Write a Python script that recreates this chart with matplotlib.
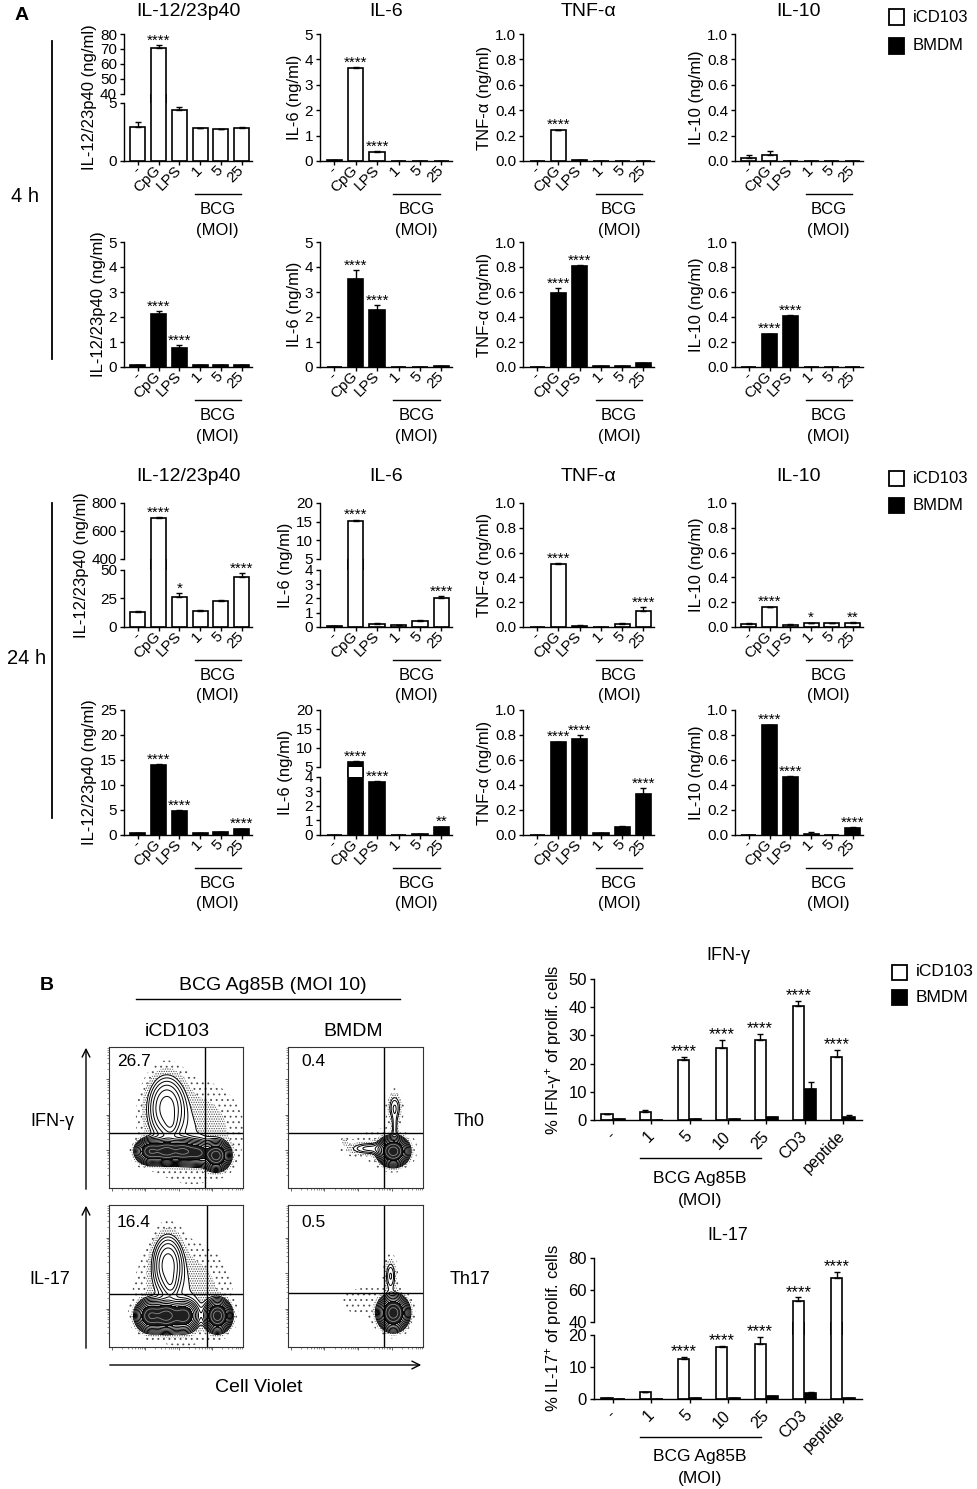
import numpy as np
import matplotlib
matplotlib.use('Agg')
import matplotlib.pyplot as plt
from matplotlib.patches import Rectangle, FancyArrowPatch
from matplotlib.lines import Line2D
from matplotlib.transforms import ScaledTranslation

plt.rcParams['font.family'] = ['Liberation Sans', 'DejaVu Sans']
plt.rcParams['mathtext.fontset'] = 'custom'
plt.rcParams['mathtext.rm'] = 'Liberation Sans'
plt.rcParams['mathtext.it'] = 'Liberation Sans:italic'
plt.rcParams['hatch.linewidth'] = 0.6
plt.rcParams['hatch.color'] = '0.3'

# ======================= DATA =======================
series_names = ['iCD103', 'BMDM']
series_faces = ['white', 'black']

cats_A = ['-', 'CpG', 'LPS', '1', '5', '25']
cytokines_A = ['IL-12/23p40', 'IL-6', 'TNF-α', 'IL-10']
ylabels_A = ['IL-12/23p40 (ng/ml)', 'IL-6 (ng/ml)', 'TNF-α (ng/ml)', 'IL-10 (ng/ml)']
time_labels = ['4 h', '24 h']

# 4 h, iCD103
il12_4h_icd = [2.9, 70.7, 4.4, 2.8, 2.75, 2.8]
il12_4h_icd_err = [0.45, 1.8, 0.25, 0.06, 0.03, 0.12]
il12_4h_icd_sig = ['', '****', '', '', '', '']
il6_4h_icd = [0.02, 3.65, 0.37, 0.01, 0.01, 0.01]
il6_4h_icd_err = [0.0, 0.04, 0.01, 0.0, 0.0, 0.0]
il6_4h_icd_sig = ['', '****', '****', '', '', '']
tnf_4h_icd = [0.0, 0.245, 0.005, 0.0, 0.0, 0.0]
tnf_4h_icd_err = [0.0, 0.003, 0.0, 0.0, 0.0, 0.0]
tnf_4h_icd_sig = ['', '****', '', '', '', '']
il10_4h_icd = [0.02, 0.045, 0.0, 0.0, 0.0, 0.0]
il10_4h_icd_err = [0.03, 0.035, 0.0, 0.0, 0.0, 0.0]
il10_4h_icd_sig = ['', '', '', '', '', '']

# 4 h, BMDM
il12_4h_bm = [0.08, 2.13, 0.76, 0.07, 0.07, 0.07]
il12_4h_bm_err = [0.01, 0.1, 0.11, 0.01, 0.01, 0.01]
il12_4h_bm_sig = ['', '****', '****', '', '', '']
il6_4h_bm = [0.02, 3.51, 2.29, 0.02, 0.02, 0.04]
il6_4h_bm_err = [0.0, 0.36, 0.18, 0.0, 0.0, 0.01]
il6_4h_bm_sig = ['', '****', '****', '', '', '']
tnf_4h_bm = [0.003, 0.59, 0.805, 0.005, 0.01, 0.03]
tnf_4h_bm_err = [0.0, 0.04, 0.01, 0.0, 0.0, 0.003]
tnf_4h_bm_sig = ['', '****', '****', '', '', '']
il10_4h_bm = [0.0, 0.265, 0.41, 0.0, 0.0, 0.0]
il10_4h_bm_err = [0.0, 0.003, 0.004, 0.0, 0.0, 0.0]
il10_4h_bm_sig = ['', '****', '****', '', '', '']

# 24 h, iCD103
il12_24h_icd = [13.2, 690.0, 26.5, 14.1, 23.0, 44.0]
il12_24h_icd_err = [0.5, 10.0, 2.9, 0.5, 1.0, 3.0]
il12_24h_icd_sig = ['', '****', '*', '', '', '****']
il6_24h_icd = [0.05, 15.1, 0.24, 0.12, 0.45, 2.05]
il6_24h_icd_err = [0.01, 0.4, 0.03, 0.02, 0.03, 0.12]
il6_24h_icd_sig = ['', '****', '', '', '', '****']
tnf_24h_icd = [0.0, 0.51, 0.01, 0.003, 0.027, 0.13]
tnf_24h_icd_err = [0.0, 0.006, 0.003, 0.0, 0.005, 0.03]
tnf_24h_icd_sig = ['', '****', '', '', '', '****']
il10_24h_icd = [0.027, 0.16, 0.02, 0.03, 0.03, 0.035]
il10_24h_icd_err = [0.003, 0.005, 0.003, 0.004, 0.003, 0.004]
il10_24h_icd_sig = ['', '****', '', '*', '', '**']

# 24 h, BMDM
il12_24h_bm = [0.3, 14.0, 4.8, 0.3, 0.5, 1.13]
il12_24h_bm_err = [0.05, 0.15, 0.1, 0.05, 0.05, 0.1]
il12_24h_bm_sig = ['', '****', '****', '', '', '****']
il6_24h_bm = [0.02, 6.2, 3.65, 0.03, 0.07, 0.53]
il6_24h_bm_err = [0.0, 0.3, 0.05, 0.0, 0.01, 0.05]
il6_24h_bm_sig = ['', '****', '****', '', '', '**']
tnf_24h_bm = [0.003, 0.74, 0.768, 0.013, 0.065, 0.325]
tnf_24h_bm_err = [0.0, 0.005, 0.03, 0.003, 0.005, 0.048]
tnf_24h_bm_sig = ['', '****', '****', '', '', '****']
il10_24h_bm = [0.0, 0.88, 0.46, 0.01, 0.0, 0.058]
il10_24h_bm_err = [0.0, 0.003, 0.008, 0.012, 0.0, 0.003]
il10_24h_bm_sig = ['', '****', '****', '', '', '****']

# Panel B bar charts
cats_B = ['-', '1', '5', '10', '25', 'CD3', 'peptide']
ifng_icd = [2.0, 2.8, 21.2, 25.5, 28.4, 40.6, 22.3]
ifng_icd_err = [0.2, 0.7, 1.3, 3.0, 2.0, 1.6, 2.6]
ifng_bm = [0.2, 0.1, 0.3, 0.3, 1.0, 11.0, 1.2]
ifng_bm_err = [0.05, 0.05, 0.05, 0.1, 0.2, 2.3, 0.4]
ifng_sig = ['', '', '****', '****', '****', '****', '****']
il17_icd = [0.3, 2.1, 12.4, 16.4, 17.3, 53.3, 67.4]
il17_icd_err = [0.1, 0.2, 0.8, 0.2, 2.0, 2.1, 3.8]
il17_bm = [0.1, 0.1, 0.2, 0.3, 0.8, 2.0, 0.4]
il17_bm_err = [0.03, 0.03, 0.03, 0.05, 0.1, 0.1, 0.05]
il17_sig = ['', '', '****', '****', '****', '****', '****']

# Flow cytometry: quadrant % and density components (cx, cy, sx, sy, weight)
flow_pct = ['26.7', '0.4', '16.4', '0.5']
flow_gate_x = [0.72, 0.71, 0.73, 0.71]
flow_gate_y = [0.39, 0.39, 0.37, 0.38]
flow_ifng_icd = [(0.43, 0.57, 0.075, 0.12, 0.22), (0.46, 0.45, 0.03, 0.05, 0.06),
                 (0.31, 0.26, 0.05, 0.04, 0.8), (0.43, 0.26, 0.05, 0.04, 0.9),
                 (0.55, 0.26, 0.05, 0.04, 0.8), (0.66, 0.25, 0.05, 0.04, 0.6),
                 (0.80, 0.23, 0.045, 0.045, 1.0), (0.62, 0.40, 0.20, 0.19, 0.035)]
flow_ifng_bm = [(0.78, 0.26, 0.05, 0.045, 1.0), (0.79, 0.57, 0.03, 0.06, 0.07),
                (0.79, 0.43, 0.015, 0.06, 0.05),
                (0.60, 0.28, 0.09, 0.025, 0.07), (0.42, 0.33, 0.015, 0.015, 0.03),
                (0.70, 0.30, 0.18, 0.10, 0.01)]
flow_il17_icd = [(0.44, 0.58, 0.06, 0.11, 0.22), (0.46, 0.44, 0.03, 0.05, 0.06),
                 (0.31, 0.22, 0.05, 0.05, 0.8),
                 (0.43, 0.22, 0.05, 0.05, 0.9), (0.56, 0.22, 0.05, 0.05, 0.7),
                 (0.81, 0.22, 0.045, 0.05, 1.0), (0.55, 0.38, 0.19, 0.19, 0.035)]
flow_il17_bm = [(0.78, 0.24, 0.05, 0.055, 1.0), (0.76, 0.50, 0.025, 0.07, 0.07),
                (0.58, 0.32, 0.18, 0.10, 0.008)]

# ======================= LAYOUT =======================
W, H = 978, 1489
fig = plt.figure(figsize=(W / 100, H / 100), dpi=100)


def fx(x):
    return x / W


def fy(y):
    return 1 - y / H


def add_ax(l, t, r, b):
    return fig.add_axes([l / W, 1 - b / H, (r - l) / W, (b - t) / H])


def make_break(lo, hi0, hi1, f_lo, f_gap):
    f_hi = 1 - f_lo - f_gap

    def fwd(y):
        y = np.asarray(y, dtype=float)
        return np.where(y <= lo, y / lo * f_lo,
                        np.where(y < hi0, f_lo + (y - lo) / (hi0 - lo) * f_gap,
                                 f_lo + f_gap + (y - hi0) / (hi1 - hi0) * f_hi))

    def inv(u):
        u = np.asarray(u, dtype=float)
        return np.where(u <= f_lo, u / f_lo * lo,
                        np.where(u < f_lo + f_gap, lo + (u - f_lo) / f_gap * (hi0 - lo),
                                 hi0 + (u - f_lo - f_gap) / f_hi * (hi1 - hi0)))
    return fwd, inv


def style(ax, tick_fs):
    for s in ['top', 'right']:
        ax.spines[s].set_visible(False)
    for s in ['left', 'bottom']:
        ax.spines[s].set_linewidth(1.0)
    ax.tick_params(direction='out', length=3, width=1.0, labelsize=tick_fs, pad=2)


def apply_break(ax, brk):
    lo, hi0, hi1, f_lo, f_gap = brk
    fwd, inv = make_break(lo, hi0, hi1, f_lo, f_gap)
    ax.set_yscale('function', functions=(fwd, inv))
    ax.set_ylim(0, hi1)
    ax.spines['left'].set_visible(False)
    tr = ax.get_yaxis_transform()
    for a, b in [(0, lo), (hi0, hi1)]:
        ax.add_line(Line2D([0, 0], [a, b], transform=tr, color='k', lw=1.0,
                           clip_on=False, solid_capstyle='projecting'))


def bars(ax, x, vals, errs, face, width, brk=None):
    vals = np.asarray(vals)
    errs = np.asarray(errs)
    ax.bar(x, vals, width=width, color=face, edgecolor='black', linewidth=1.2, zorder=2)
    ax.errorbar(x, vals, yerr=[np.zeros_like(errs), errs], fmt='none', ecolor='black',
                elinewidth=1.0, capsize=2.5, capthick=1.0, zorder=3)
    if brk is not None:
        lo, hi0 = brk[0], brk[1]
        for xi, vi in zip(x, vals):
            if vi > hi0:
                ax.bar(xi, hi0 - lo, bottom=lo, width=width, color='white',
                       linewidth=0, zorder=2.5)
                ax.vlines([xi - width / 2, xi + width / 2], lo, hi0, color='black',
                          lw=1.2, zorder=2.6)


def stars(ax, x, tops, sig, fs):
    for xi, ti, s in zip(x, tops, sig):
        if s:
            ax.annotate(s, (xi, ti), xytext=(0, 0.5), textcoords='offset points',
                        ha='center', va='baseline', fontsize=fs, zorder=4)


def bracket(ax, x0, x1, lines, dy_line, dys, fs):
    base = ax.get_xaxis_transform()
    tl = base + ScaledTranslation(0, -dy_line / 100, fig.dpi_scale_trans)
    ax.add_line(Line2D([x0, x1], [0, 0], transform=tl, color='k', lw=1.0, clip_on=False))
    xm = (x0 + x1) / 2
    for txt, dy in zip(lines, dys):
        ax.annotate(txt, xy=(xm, 0), xycoords=base, xytext=(0, -dy),
                    textcoords='offset pixels', ha='center', va='center', fontsize=fs,
                    annotation_clip=False)


def legend_at(x, y1, y2, fs=12):
    for yc, fc, lab in zip([y1, y2], series_faces, series_names):
        fig.add_artist(Rectangle((fx(x), fy(yc + 7.5)), 15 / W, 15 / H,
                                 transform=fig.transFigure, facecolor=fc,
                                 edgecolor='black', lw=1.3))
        fig.text(fx(x + 24), fy(yc), lab, fontsize=fs, ha='left', va='center')


# ------------------- Panel A -------------------
rows_px = [(34, 161), (242, 367), (503, 627), (710, 835)]
cols_px = [(124, 252), (320, 452), (523, 654), (735, 863)]
frac_ticks = [0, 0.2, 0.4, 0.6, 0.8, 1.0]
frac_labels = ['0.0', '0.2', '0.4', '0.6', '0.8', '1.0']

panelA = [
    (0, 0, il12_4h_icd, il12_4h_icd_err, il12_4h_icd_sig, 0,
     [0, 5, 40, 50, 60, 70, 80], None, (5, 40, 80, 0.457, 0.071)),
    (0, 1, il6_4h_icd, il6_4h_icd_err, il6_4h_icd_sig, 0, [0, 1, 2, 3, 4, 5], None, None),
    (0, 2, tnf_4h_icd, tnf_4h_icd_err, tnf_4h_icd_sig, 0, frac_ticks, frac_labels, None),
    (0, 3, il10_4h_icd, il10_4h_icd_err, il10_4h_icd_sig, 0, frac_ticks, frac_labels, None),
    (1, 0, il12_4h_bm, il12_4h_bm_err, il12_4h_bm_sig, 1, [0, 1, 2, 3, 4, 5], None, None),
    (1, 1, il6_4h_bm, il6_4h_bm_err, il6_4h_bm_sig, 1, [0, 1, 2, 3, 4, 5], None, None),
    (1, 2, tnf_4h_bm, tnf_4h_bm_err, tnf_4h_bm_sig, 1, frac_ticks, frac_labels, None),
    (1, 3, il10_4h_bm, il10_4h_bm_err, il10_4h_bm_sig, 1, frac_ticks, frac_labels, None),
    (2, 0, il12_24h_icd, il12_24h_icd_err, il12_24h_icd_sig, 0,
     [0, 25, 50, 400, 600, 800], None, (50, 400, 800, 0.46, 0.089)),
    (2, 1, il6_24h_icd, il6_24h_icd_err, il6_24h_icd_sig, 0,
     [0, 1, 2, 3, 4, 5, 10, 15, 20], None, (4, 5, 20, 0.46, 0.089)),
    (2, 2, tnf_24h_icd, tnf_24h_icd_err, tnf_24h_icd_sig, 0, frac_ticks, frac_labels, None),
    (2, 3, il10_24h_icd, il10_24h_icd_err, il10_24h_icd_sig, 0, frac_ticks, frac_labels, None),
    (3, 0, il12_24h_bm, il12_24h_bm_err, il12_24h_bm_sig, 1,
     [0, 5, 10, 15, 20, 25], None, None),
    (3, 1, il6_24h_bm, il6_24h_bm_err, il6_24h_bm_sig, 1,
     [0, 1, 2, 3, 4, 5, 10, 15, 20], None, (4, 5, 20, 0.464, 0.08)),
    (3, 2, tnf_24h_bm, tnf_24h_bm_err, tnf_24h_bm_sig, 1, frac_ticks, frac_labels, None),
    (3, 3, il10_24h_bm, il10_24h_bm_err, il10_24h_bm_sig, 1, frac_ticks, frac_labels, None),
]

xA = np.arange(len(cats_A))
for r, c, vals, errs, sig, si, yt, ytl, brk in panelA:
    t, b = rows_px[r]
    l, rr = cols_px[c]
    ax = add_ax(l, t, rr, b)
    style(ax, 11)
    if brk is not None:
        apply_break(ax, brk)
    else:
        ax.set_ylim(0, yt[-1])
    bars(ax, xA, vals, errs, series_faces[si], 0.72, brk)
    stars(ax, xA, np.asarray(vals) + np.asarray(errs), sig, 11)
    ax.set_xlim(-0.67, 5.5)
    ax.set_xticks(xA)
    ax.set_xticklabels(cats_A, rotation=45, ha='right', va='center',
                       rotation_mode='anchor', fontsize=11)
    ax.set_yticks(yt)
    ax.set_yticklabels(ytl if ytl is not None else [str(v) for v in yt])
    ax.set_ylabel(ylabels_A[c], fontsize=12, labelpad=2)
    bracket(ax, 2.75, 4.95, ['BCG', '(MOI)'], 33, [49, 69], 12)
    if r in (0, 2):
        fig.text(fx((l + rr) / 2), fy(11 if r == 0 else 476), cytokines_A[c],
                 fontsize=14, ha='center', va='center')

legend_at(889, 17, 46)
legend_at(889, 478, 505)

fig.text(fx(22), fy(15), 'A', fontsize=14, fontweight='bold', ha='center', va='center')
fig.text(fx(25), fy(197), time_labels[0], fontsize=14.5, ha='center', va='center')
fig.text(fx(27), fy(659), time_labels[1], fontsize=14.5, ha='center', va='center')
fig.add_artist(Line2D([fx(52), fx(52)], [fy(41), fy(359)], transform=fig.transFigure,
                      color='k', lw=1.3))
fig.add_artist(Line2D([fx(52), fx(52)], [fy(503), fy(818)], transform=fig.transFigure,
                      color='k', lw=1.3))

# ------------------- Panel B: flow -------------------
fig.text(fx(47), fy(985), 'B', fontsize=14, fontweight='bold', ha='center', va='center')
fig.text(fx(273), fy(985), 'BCG Ag85B (MOI 10)', fontsize=14, ha='center', va='center')
fig.add_artist(Line2D([fx(136), fx(400)], [fy(999), fy(999)], transform=fig.transFigure,
                      color='k', lw=1.0))
fig.text(fx(177), fy(1031), series_names[0], fontsize=14, ha='center', va='center')
fig.text(fx(353), fy(1031), series_names[1], fontsize=14, ha='center', va='center')

flow_boxes = [(109, 1047, 243, 1188), (288, 1047, 423, 1188),
              (109, 1205, 243, 1347), (288, 1205, 423, 1347)]
flow_comps = [flow_ifng_icd, flow_ifng_bm, flow_il17_icd, flow_il17_bm]
flow_pct_pos = [(0.06, 0.895), (0.10, 0.895), (0.06, 0.88), (0.10, 0.88)]

gx = np.linspace(0, 1, 300)
GX, GY = np.meshgrid(gx, gx)
major = np.array([0.02, 0.27, 0.52, 0.77])
minor = np.concatenate([m + 0.25 * np.log10(np.arange(2, 10)) for m in major])
minor = minor[minor < 1]
for box, comps, pct, ppos, vg, hg in zip(flow_boxes, flow_comps, flow_pct, flow_pct_pos,
                                         flow_gate_x, flow_gate_y):
    ax = add_ax(*box)
    Z = np.zeros_like(GX)
    for cx, cy, sx, sy, w in comps:
        Z += w * np.exp(-((GX - cx) ** 2 / (2 * sx ** 2) + (GY - cy) ** 2 / (2 * sy ** 2)))
    zm = Z.max()
    ax.contourf(GX, GY, Z, levels=[zm * 0.005, zm * 0.015], colors='none',
                hatches=['...'])
    ax.contourf(GX, GY, Z, levels=[zm * 0.015, zm * 0.035], colors='none',
                hatches=['.......'])
    ax.contourf(GX, GY, Z, levels=[zm * 0.35, zm * 2], colors=['0.12'])
    ax.contour(GX, GY, Z, levels=zm * np.geomspace(0.035, 0.35, 8), colors='k',
               linewidths=0.7)
    ax.contour(GX, GY, Z, levels=zm * np.array([0.55, 0.8]), colors='0.55',
               linewidths=0.6)
    ax.axvline(vg, color='k', lw=1.0)
    ax.axhline(hg, color='k', lw=1.0)
    ax.text(ppos[0], ppos[1], pct, transform=ax.transAxes, fontsize=12.5,
            ha='left', va='center')
    ax.set_xlim(0, 1)
    ax.set_ylim(0, 1)
    for s in ax.spines.values():
        s.set_linewidth(0.8)
        s.set_color('0.2')
    ax.set_xticks(major)
    ax.set_yticks(major[1:])
    ax.set_xticks(minor, minor=True)
    ax.set_yticks(minor, minor=True)
    ax.tick_params(which='major', direction='out', length=2.5, width=0.6,
                   labelbottom=False, labelleft=False, color='0.3')
    ax.tick_params(which='minor', direction='out', length=1.2, width=0.5, color='0.4')

fig.text(fx(52), fy(1122), 'IFN-γ', fontsize=13, ha='center', va='center')
fig.text(fx(50), fy(1280), 'IL-17', fontsize=13, ha='center', va='center')
fig.text(fx(469), fy(1122), 'Th0', fontsize=13, ha='center', va='center')
fig.text(fx(470), fy(1280), 'Th17', fontsize=13, ha='center', va='center')
fig.text(fx(259), fy(1387), 'Cell Violet', fontsize=14, ha='center', va='center')
for (x0, y0), (x1, y1) in [((86, 1192), (86, 1045)), ((86, 1351), (86, 1203)),
                           ((107, 1365), (424, 1365))]:
    fig.add_artist(FancyArrowPatch((fx(x0), fy(y0)), (fx(x1), fy(y1)),
                                   transform=fig.transFigure, arrowstyle='->',
                                   mutation_scale=14, lw=1.0, color='k'))

# ------------------- Panel B: bar charts -------------------
xB = np.arange(len(cats_B))
off, wB = 0.16, 0.29
specB = [
    ((594, 979, 862, 1120), ifng_icd, ifng_icd_err, ifng_bm, ifng_bm_err, ifng_sig,
     [0, 10, 20, 30, 40, 50], None, '% IFN-γ$^{+}$ of prolif. cells', 'IFN-γ', 955),
    ((594, 1258, 862, 1399), il17_icd, il17_icd_err, il17_bm, il17_bm_err, il17_sig,
     [0, 10, 20, 40, 60, 80], (20, 40, 80, 0.454, 0.092),
     '% IL-17$^{+}$ of prolif. cells', 'IL-17', 1235),
]
for box, v1, e1, v2, e2, sig, yt, brk, ylab, title, ty in specB:
    ax = add_ax(*box)
    style(ax, 12)
    if brk is not None:
        apply_break(ax, brk)
    else:
        ax.set_ylim(0, yt[-1])
    bars(ax, xB - off, v1, e1, series_faces[0], wB, brk)
    bars(ax, xB + off, v2, e2, series_faces[1], wB, brk)
    stars(ax, xB - off, np.asarray(v1) + np.asarray(e1), sig, 12)
    ax.set_xlim(-0.5, 6.5)
    ax.set_xticks(xB)
    ax.set_xticklabels(cats_B, rotation=45, ha='right', va='center',
                       rotation_mode='anchor', fontsize=11.5)
    ax.tick_params(axis='x', pad=7)
    ax.set_yticks(yt)
    ax.set_yticklabels([str(v) for v in yt])
    ax.set_ylabel(ylab, fontsize=12, labelpad=3)
    bracket(ax, 0.7, 3.85, ['BCG Ag85B', '(MOI)'], 38, [58, 80], 12.5)
    fig.text(fx(728), fy(ty), title, fontsize=13, ha='center', va='center')

legend_at(892, 972, 997, fs=12.5)

fig.savefig('out.png', dpi=100)
